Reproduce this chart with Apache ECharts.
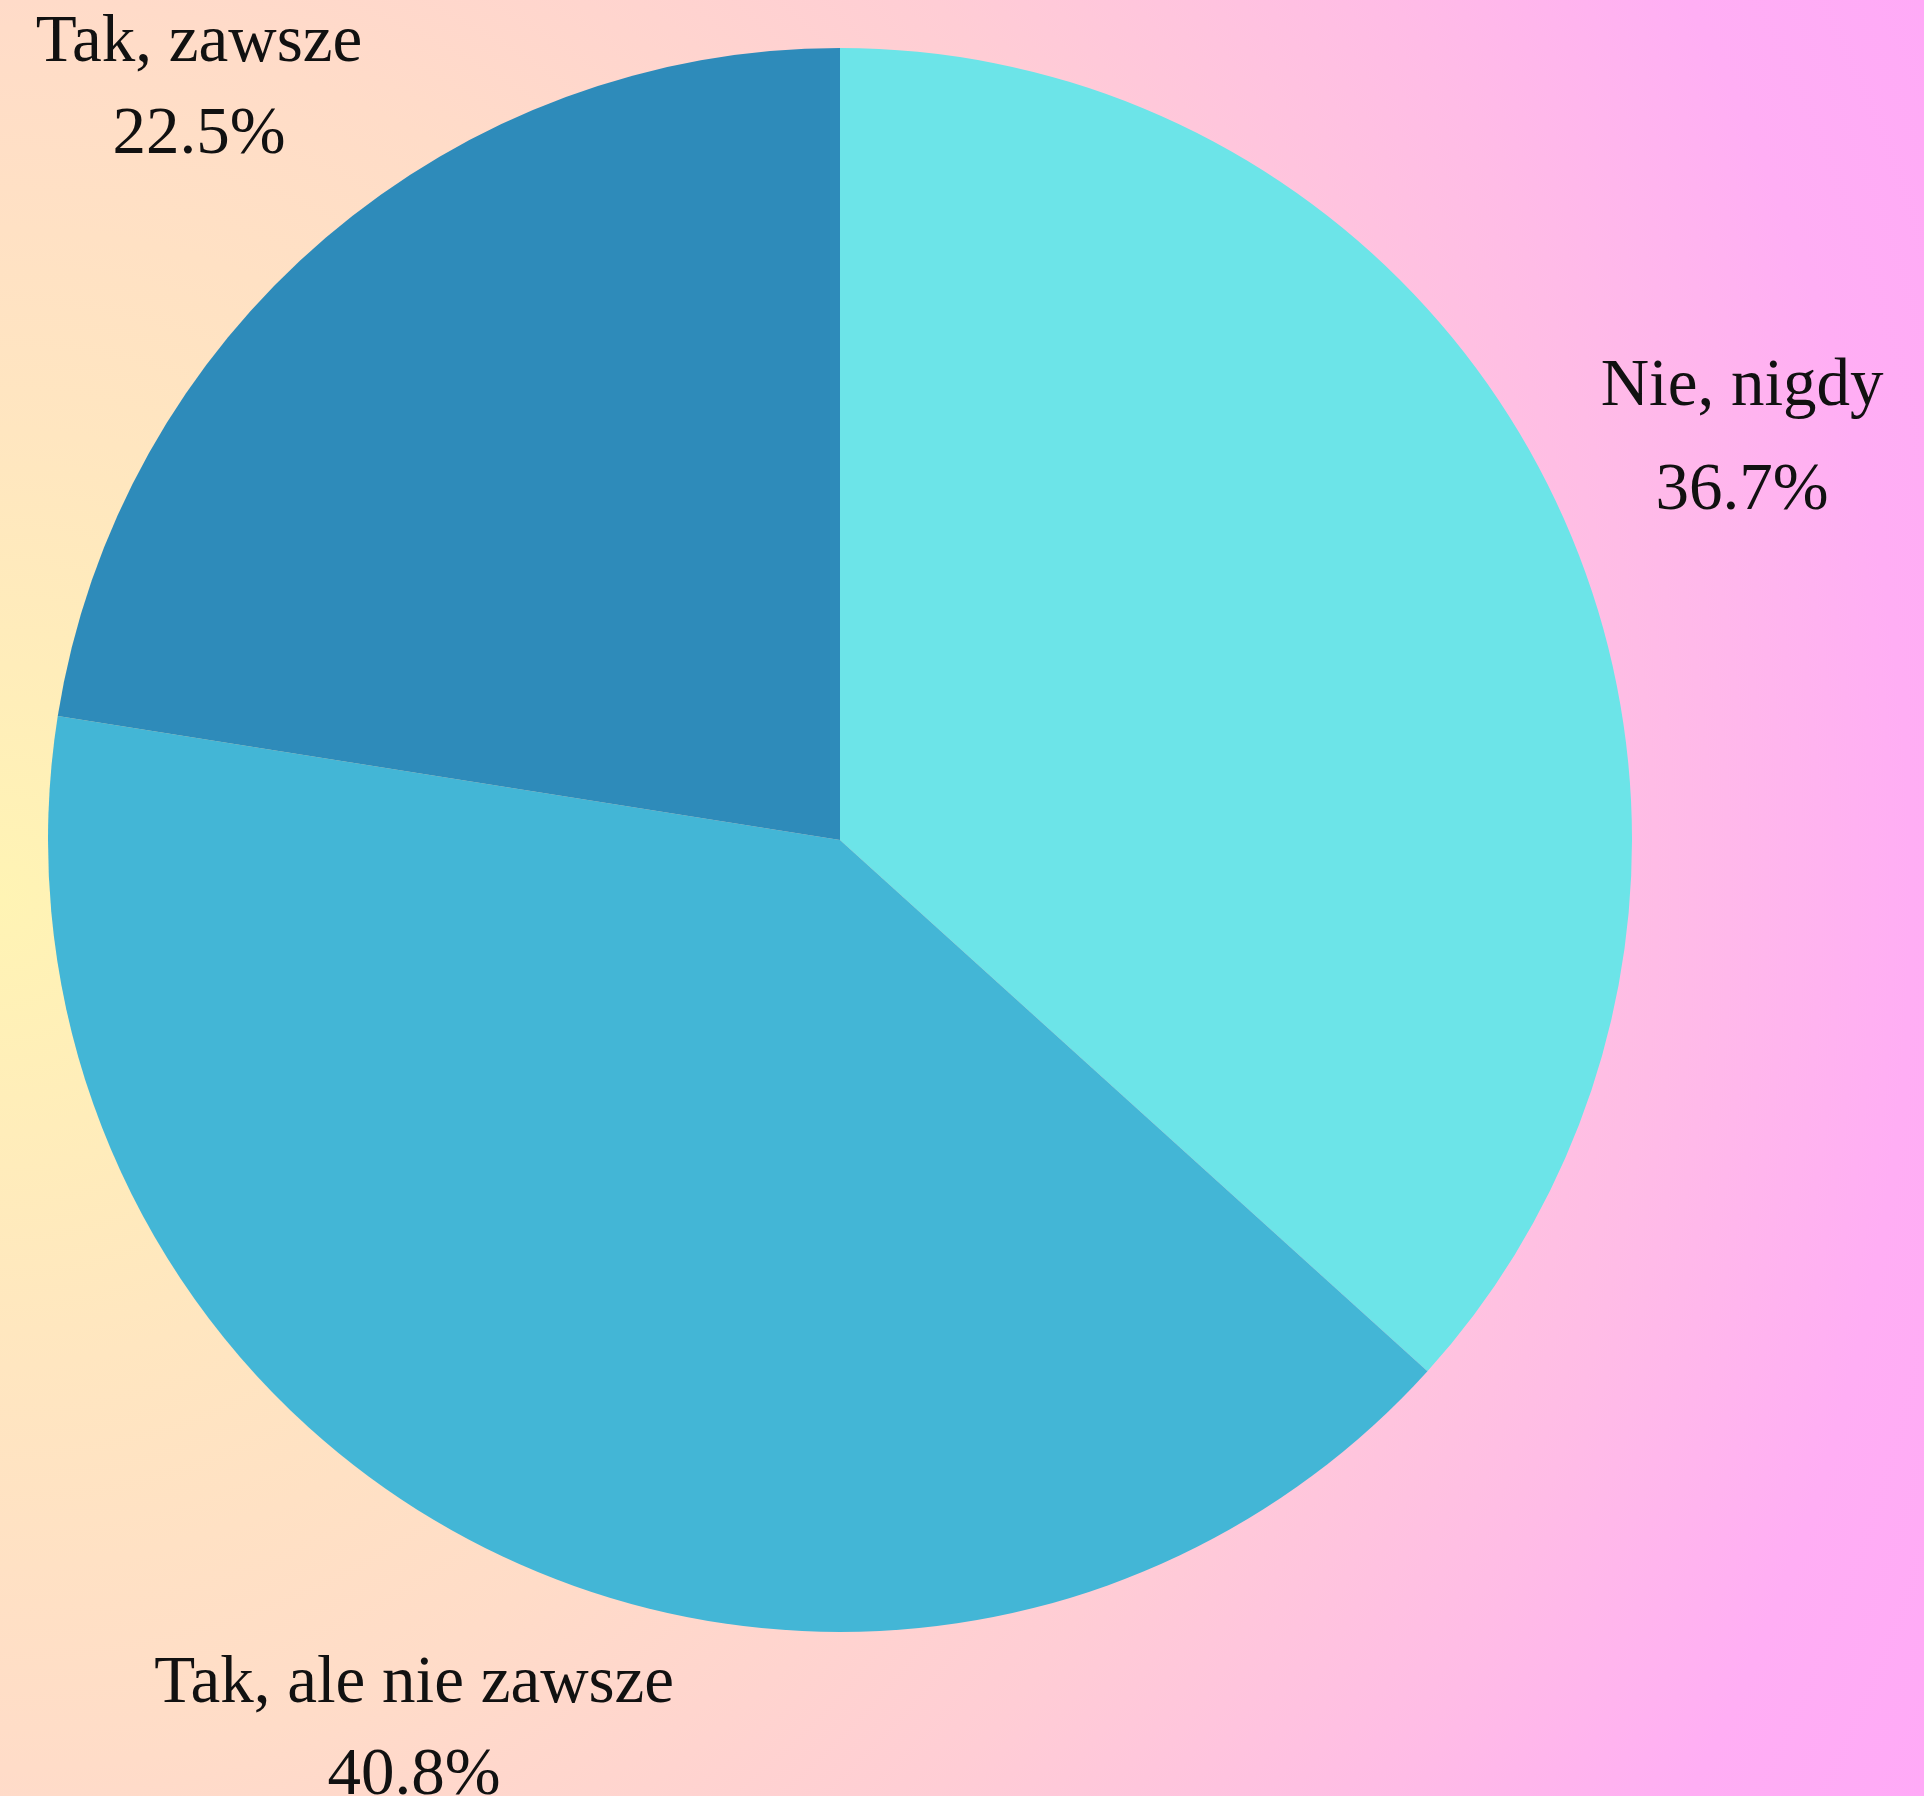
<!DOCTYPE html>
<html>
<head>
<meta charset="utf-8">
<script src="https://cdn.jsdelivr.net/npm/echarts@6/dist/echarts.min.js"></script>
<style>
  html, body { margin: 0; padding: 0; }
  body {
    width: 1924px; height: 1796px; overflow: hidden;
    background: radial-gradient(circle farthest-corner at 0% 50%,
      #fff4b4 0%, #ffe6c0 22%, #ffdcc8 41%, #ffcdd5 61%, #ffbce6 78%, #ffaef4 90%, #ffaaf7 100%);
  }
  #chart { width: 1924px; height: 1796px; }
</style>
</head>
<body>
<div id="chart"></div>
<script>
const categories = ['Nie, nigdy', 'Tak, ale nie zawsze', 'Tak, zawsze'];
const values = [36.7, 40.8, 22.5];
const colors = ['#6ce4e8', '#43b6d6', '#2e8bba'];

const chart = echarts.init(document.getElementById('chart'), null, { renderer: 'canvas' });

const sliceData = categories.map((name, i) => ({
  name: name, value: values[i], itemStyle: { color: colors[i] }
}));
const labelData = categories.map((name, i) => {
  const item = { name: name, value: values[i] };
  if (i === 0) item.label = { lineHeight: 104 };
  return item;
});

chart.setOption({
  backgroundColor: 'transparent',
  animation: false,
  series: [
    {
      type: 'pie',
      center: [840, 840],
      radius: [0, 792],
      startAngle: 90,
      clockwise: true,
      silent: true,
      label: { show: false },
      labelLine: { show: false },
      itemStyle: { borderWidth: 0 },
      data: sliceData
    },
    {
      type: 'pie',
      center: [840, 840],
      radius: [964, 1004],
      startAngle: 90,
      clockwise: true,
      silent: true,
      itemStyle: { color: 'rgba(0,0,0,0)', borderWidth: 0 },
      labelLine: { show: false },
      label: {
        show: true,
        position: 'inside',
        rotate: 0,
        formatter: p => p.name + '\n' + p.value.toFixed(1) + '%',
        fontFamily: '"Liberation Serif", "DejaVu Serif", serif',
        fontSize: 67,
        lineHeight: 92,
        color: '#111111',
        align: 'center',
        verticalAlign: 'middle'
      },
      data: labelData
    }
  ]
});
</script>
</body>
</html>
